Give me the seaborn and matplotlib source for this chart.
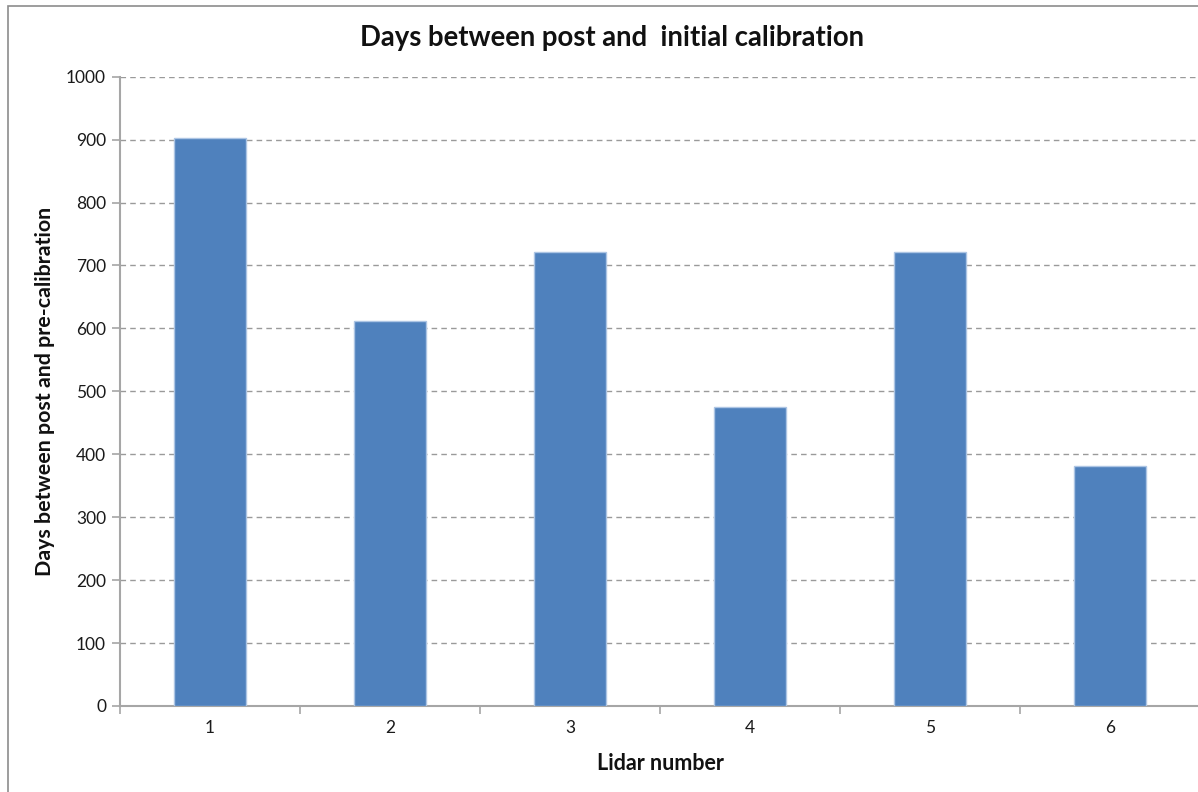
import matplotlib
matplotlib.use("Agg")
import matplotlib.pyplot as plt
import seaborn as sns
import pandas as pd
from matplotlib.patches import Rectangle

# Lidar units and days between post- and pre-calibration
lidars = ["1", "2", "3", "4", "5", "6"]
days = [902, 611, 721, 475, 721, 381]
y_ticks = [0, 100, 200, 300, 400, 500, 600, 700, 800, 900, 1000]

df = pd.DataFrame({"lidar": lidars, "days": days})

sns.set_theme(style="white")
plt.rcParams["font.family"] = ["Lato", "DejaVu Sans"]

W, H = 1198, 792
fig = plt.figure(figsize=(W / 100, H / 100), dpi=100)
fig.patch.set_facecolor("white")

# outer chart frame
fig.patches.append(Rectangle((8 / W, -0.05), 1.2, 1 - 6.3 / H + 0.05,
                             transform=fig.transFigure, fill=False,
                             edgecolor="#8c8c8c", linewidth=1.2, zorder=0))

left, right = 120 / W, 1200 / W
bottom, top = 1 - 706 / H, 1 - 76.7 / H
ax = fig.add_axes([left, bottom, right - left, top - bottom])

sns.barplot(data=df, x="lidar", y="days", color="#4f81bd", width=0.4,
            edgecolor="#adc5e4", linewidth=1.0, saturation=1, ax=ax, zorder=3)

ax.set_xlim(-0.5, len(lidars) - 0.5)
ax.set_ylim(0, 1000)
ax.set_yticks(y_ticks)
ax.set_yticklabels([str(t) for t in y_ticks], fontsize=12.5, color="#1a1a1a")
ax.set_xticks(range(len(lidars)))
ax.set_xticklabels(lidars, fontsize=12.5, color="#1a1a1a")

# dashed horizontal gridlines
for t in y_ticks[1:]:
    ax.axhline(t, color="#9a9a9a", linestyle=(0, (4, 3)), linewidth=1.0, zorder=1)

for s in ["top", "right"]:
    ax.spines[s].set_visible(False)
for s in ["left", "bottom"]:
    ax.spines[s].set_color("#a6a6a6")
    ax.spines[s].set_linewidth(1.5)

# y ticks outside; x ticks at category boundaries
ax.tick_params(axis="y", which="both", direction="out", length=6, width=1.2,
               color="#a6a6a6", pad=4, left=True)
ax.tick_params(axis="x", which="major", length=0, pad=10)
ax.set_xticks([i + 0.5 for i in range(len(lidars) - 1)] + [-0.5], minor=True)
ax.tick_params(axis="x", which="minor", direction="out", length=6, width=1.2,
               color="#a6a6a6", bottom=True)

ax.set_xlabel("Lidar number", fontsize=15.5, fontweight="bold", labelpad=12, color="#111111")
ax.set_ylabel("")
fig.text(45 / W, 1 - 391 / H, "Days between post and pre-calibration", rotation=90,
         ha="center", va="center", fontsize=15.4, fontweight="bold", color="#111111")
fig.text(612 / W, 1 - 38 / H, "Days between post and  initial calibration",
         ha="center", va="center", fontsize=19.8, fontweight="bold", color="#111111")

fig.savefig("out.png", dpi=100)
